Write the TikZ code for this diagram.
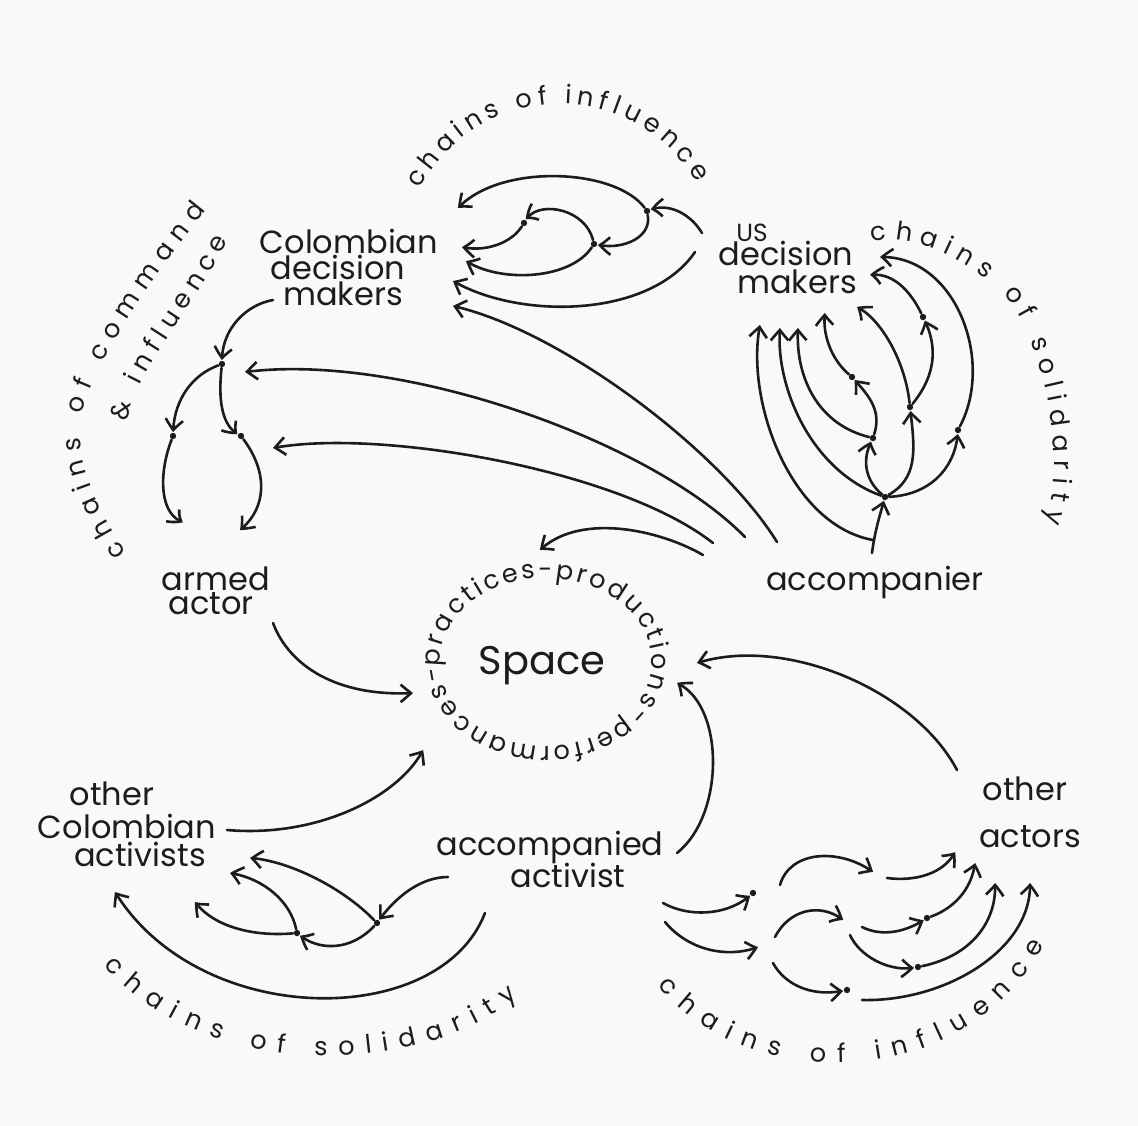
\documentclass[tikz,border=0pt]{standalone}
\usepackage{fontspec}
\setmainfont{Poppins}
\usetikzlibrary{arrows.meta,bending,decorations.text}
\definecolor{ink}{RGB}{28,28,28}
\definecolor{paper}{RGB}{249,249,248}
\newcommand\arcfont{\fontsize{6.4}{6.4}\selectfont}
\begin{document}
\begin{tikzpicture}[x=0.25pt,y=-0.25pt,
  line cap=round, line join=round,
  link/.style={draw=ink, line width=0.65pt, -{Straight Barb[length=2.6pt,width=4.4pt,line width=0.65pt,bend]}},
  lbl/.style={anchor=base, inner sep=0pt, text=ink, font=\fontsize{8}{8}\selectfont},
  dot/.style={circle, fill=ink, inner sep=0pt, minimum size=1.6pt},
  arctext/.style={decorate, decoration={text along path, text align={fit to path}, text color=ink, text={|\arcfont|#1}}},
]
% page
\fill[paper] (0,0) rectangle (1138,1126);
\useasboundingbox (0,0) rectangle (1138,1126);

% ---------- actors ----------
\node[lbl] (cdm1) at (349,253) {Colombian};
\node[lbl] (cdm2) at (338,279) {decision};
\node[lbl] (cdm3) at (343,305) {makers};
\node[lbl, font=\fontsize{6.2}{6.2}\selectfont] (us1) at (752,241) {US};
\node[lbl] (us2) at (786,265) {decision};
\node[lbl] (us3) at (797,293) {makers};
\node[lbl] (arm1) at (216,590) {armed};
\node[lbl] (arm2) at (211,614) {actor};
\node[lbl, font=\fontsize{10}{10}\selectfont] (space) at (542,674) {Space};
\node[lbl] (acc) at (875,590) {accompanier};
\node[lbl] (oth1) at (1025,800) {other};
\node[lbl] (oth2) at (1030,847) {actors};
\node[lbl] (oca1) at (112,805) {other};
\node[lbl] (oca2) at (127,838) {Colombian};
\node[lbl] (oca3) at (140,866) {activists};
\node[lbl] (aa1) at (550,855) {accompanied};
\node[lbl] (aa2) at (568,887) {activist};

% ---------- curved captions ----------
\path[arctext={chains of influence}] (419.8,189) arc[start angle=152.5, end angle=30, radius=39.5pt];
\path[arctext={chains of command}] (127,552) .. controls (102,520) and (78,465) .. (80,428)
  .. controls (82,380) and (150,280) .. (206,210);
\path[arctext={{\&} influence}] (128,422) .. controls (128,382) and (195,305) .. (228,240);
\path[arctext={chains of solidarity}] (872,242) .. controls (910,232) and (965,258) .. (1000,291)
  .. controls (1040,325) and (1070,460) .. (1045,522);
\path[arctext={chains of solidarity}] (104,965) .. controls (200,1080) and (420,1080) .. (518,996);
\path[arctext={chains of influence}] (658,985) .. controls (740,1090) and (960,1100) .. (1044,945);
\path[arctext={practices-productions-performances-}] (440.1,666.4)
  arc[start angle=183, end angle=-177, x radius=26.5pt, y radius=21pt];

% ---------- relay points ----------
\node[dot] (d1) at (647,211) {};
\node[dot] (d2) at (594,244) {};
\node[dot] (d3) at (524,223) {};
\node[dot] (dotA) at (222,364) {};
\node[dot] (dotB) at (173,436) {};
\node[dot] (dotC) at (241,436) {};
\node[dot] (P) at (885,497) {};
\node[dot] (Q) at (873,438) {};
\node[dot] (R) at (852,377) {};
\node[dot] (S) at (910,407) {};
\node[dot] (T) at (923,317) {};
\node[dot] (U) at (958,430) {};
\node[dot] (X) at (377,923) {};
\node[dot] (Y) at (297,933) {};
\node[dot] (M) at (753,893) {};
\node[dot] (D1) at (927,918) {};
\node[dot] (D2) at (918,967) {};
\node[dot] (D3) at (847,990) {};

% ---------- connector ends ----------
\coordinate (cdmA) at (458,208);
\coordinate (cdmB) at (462,247);
\coordinate (cdmC) at (466,261);
\coordinate (cdmD) at (453,281);
\coordinate (cdmE) at (453,306);
\coordinate (cdmF) at (273,300);
\coordinate (usL1) at (702,233);
\coordinate (usL2) at (695,252);
\coordinate (accA) at (777,542);
\coordinate (accB) at (745,537);
\coordinate (accC) at (713,543);
\coordinate (accD) at (703,555);
\coordinate (accE) at (872,553);
\coordinate (accF) at (873,540);
\coordinate (dotAin) at (245,372);
\coordinate (dotCin) at (273,448);
\coordinate (spT) at (540,550);
\coordinate (spL) at (413,693);
\coordinate (spBL) at (423,750);
\coordinate (spR) at (677,683);
\coordinate (spR2) at (697,663);
\coordinate (armA) at (183,522);
\coordinate (armB) at (240,530);
\coordinate (armC) at (273,623);
\coordinate (usB1) at (760,325);
\coordinate (usB2) at (780,328);
\coordinate (usB3) at (798,328);
\coordinate (usB4) at (825,313);
\coordinate (usB5) at (857,307);
\coordinate (usB6) at (870,275);
\coordinate (usB7) at (880,257);
\coordinate (ocaR) at (227,830);
\coordinate (ocaB1) at (250,858);
\coordinate (ocaB2) at (230,873);
\coordinate (ocaB3) at (195,902);
\coordinate (ocaB4) at (115,892);
\coordinate (aaR) at (677,853);
\coordinate (aaL) at (448,877);
\coordinate (aaB) at (485,913);
\coordinate (aaC) at (663,903);
\coordinate (aaD) at (665,922);
\coordinate (othL) at (957,770);
\coordinate (N) at (758,947);
\coordinate (mOut) at (780,885);
\coordinate (k1In) at (873,872);
\coordinate (k1Out) at (887,878);
\coordinate (nOut1) at (775,937);
\coordinate (nOut2) at (773,963);
\coordinate (k2In) at (843,920);
\coordinate (k2Out1) at (862,927);
\coordinate (k2Out2) at (850,935);
\coordinate (d3Out) at (862,1000);
\coordinate (oaA) at (955,852);
\coordinate (oaB) at (975,863);
\coordinate (oaC) at (995,883);
\coordinate (oaD) at (1030,883);

% ---------- chains towards the Colombian decision makers ----------
\draw[link] (d1) .. controls (615,168) and (500,163) .. (cdmA);
\draw[link] (usL1) .. controls (690,213) and (668,203) .. (d1);
\draw[link] (d1) .. controls (652,238) and (622,250) .. (d2);
\draw[link] (d2) .. controls (585,208) and (538,200) .. (d3);
\draw[link] (d3) .. controls (510,245) and (482,252) .. (cdmB);
\draw[link] (d2) .. controls (570,280) and (500,283) .. (cdmC);
\draw[link] (usL2) .. controls (650,318) and (520,320) .. (cdmD);

% ---------- from the accompanier ----------
\draw[link] (accA) .. controls (720,450) and (560,330) .. (cdmE);
\draw[link] (accB) .. controls (650,440) and (400,352) .. (dotAin);
\draw[link] (accC) .. controls (620,470) and (380,428) .. (dotCin);
\draw[link] (accD) .. controls (660,530) and (580,512) .. (spT);

% ---------- chains of command ----------
\draw[link] (cdmF) .. controls (245,305) and (222,330) .. (dotA);
\draw[link] (dotA) .. controls (192,375) and (174,400) .. (dotB);
\draw[link] (dotA) .. controls (218,400) and (222,425) .. (dotC);
\draw[link] (dotB) .. controls (158,475) and (160,515) .. (armA);
\draw[link] (dotC) .. controls (270,475) and (265,510) .. (armB);
\draw[link] (armC) .. controls (290,668) and (340,697) .. (spL);

% ---------- chains of solidarity towards the US ----------
\draw[link] (accE) .. controls (875,530) and (880,515) .. (P);
\draw[link] (accF) .. controls (790,525) and (745,400) .. (usB1);
\draw[link] (P) .. controls (810,470) and (775,385) .. (usB2);
\draw[link] (Q) .. controls (820,425) and (795,380) .. (usB3);
\draw[link] (R) .. controls (832,360) and (822,335) .. (usB4);
\draw[link] (S) .. controls (905,360) and (880,318) .. (usB5);
\draw[link] (T) .. controls (910,290) and (892,272) .. (usB6);
\draw[link] (U) .. controls (995,360) and (955,255) .. (usB7);
\draw[link] (P) .. controls (930,495) and (955,468) .. (U);
\draw[link] (P) .. controls (918,478) and (915,450) .. (S);
\draw[link] (P) .. controls (865,480) and (862,460) .. (Q);
\draw[link] (Q) .. controls (882,410) and (868,395) .. (R);
\draw[link] (S) .. controls (932,380) and (940,352) .. (T);

% ---------- into the space ----------
\draw[link] (ocaR) .. controls (320,838) and (400,795) .. (spBL);
\draw[link] (aaR) .. controls (725,815) and (725,705) .. (spR);
\draw[link] (othL) .. controls (915,690) and (785,635) .. (spR2);

% ---------- chains of solidarity among activists ----------
\draw[link] (aaL) .. controls (420,877) and (395,898) .. (X);
\draw[link] (X) .. controls (350,952) and (318,950) .. (Y);
\draw[link] (X) .. controls (340,885) and (285,860) .. (ocaB1);
\draw[link] (Y) .. controls (290,900) and (262,878) .. (ocaB2);
\draw[link] (Y) .. controls (250,937) and (212,925) .. (ocaB3);
\draw[link] (aaB) .. controls (440,1030) and (200,1030) .. (ocaB4);

% ---------- chains of influence towards other actors ----------
\draw[link] (aaC) .. controls (690,918) and (728,915) .. (M);
\draw[link] (aaD) .. controls (690,952) and (730,958) .. (N);
\draw[link] (mOut) .. controls (790,850) and (840,848) .. (k1In);
\draw[link] (k1Out) .. controls (918,882) and (945,872) .. (oaA);
\draw[link] (nOut1) .. controls (790,908) and (822,903) .. (k2In);
\draw[link] (k2Out1) .. controls (882,937) and (905,932) .. (D1);
\draw[link] (D1) .. controls (955,908) and (972,888) .. (oaB);
\draw[link] (k2Out2) .. controls (860,957) and (890,972) .. (D2);
\draw[link] (D2) .. controls (975,955) and (997,918) .. (oaC);
\draw[link] (nOut2) .. controls (785,985) and (812,997) .. (D3);
\draw[link] (d3Out) .. controls (945,1002) and (1032,950) .. (oaD);
\end{tikzpicture}
\end{document}
